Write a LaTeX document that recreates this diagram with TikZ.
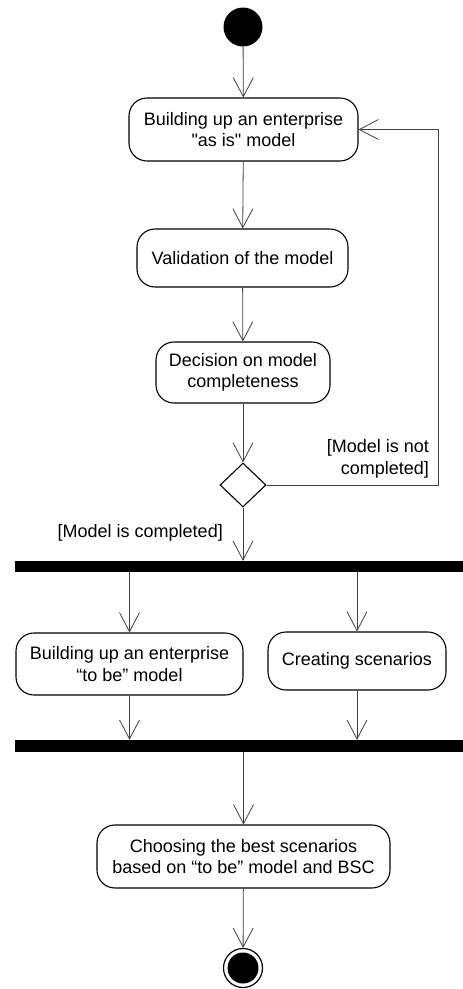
\documentclass[tikz,border=0pt]{standalone}
\usepackage{fontspec}
\newfontfamily\uifont{Liberation Sans}
\usetikzlibrary{shapes.geometric,arrows.meta}
\definecolor{wire}{rgb}{0.25, 0.25, 0.25}

\tikzset{
  activity/.style={draw, rounded corners=18pt, line width=1.1pt, align=center,
    inner sep=0pt, font=\uifont\fontsize{18pt}{21.5pt}\selectfont},
  flow/.style={draw=wire, line width=0.8pt, -{Straight Barb[length=19pt,width=20pt]}},
  bar/.style={fill, inner sep=0pt, minimum width=448pt},
  guard/.style={inner sep=0pt, font=\uifont\fontsize{18pt}{21.5pt}\selectfont}
}

\begin{document}
\begin{tikzpicture}[x=1pt, y=-1pt]
\useasboundingbox (0, 0) rectangle (463, 989);
% start and end
\node [circle, fill, inner sep=0pt, minimum size=39pt] (start) at (243, 27) {};
\node [circle, draw, line width=1.2pt, inner sep=0pt, minimum size=39pt,
  path picture={\fill (path picture bounding box.center) circle (15.5pt);}] (stop) at (243, 968) {};
% activities
\node [activity, minimum width=229pt, minimum height=63pt] (asis) at (243.5, 129.5)
  {Building up an enterprise\\"as is" model};
\node [activity, minimum width=211pt, minimum height=58pt] (valid) at (242.5, 258)
  {Validation of the model};
\node [activity, minimum width=174pt, minimum height=61pt] (decide) at (243, 372.5)
  {Decision on model\\completeness};
\node [diamond, draw, line width=1.1pt, inner sep=0pt, minimum width=46pt,
  minimum height=44pt] (check) at (243, 485) {};
\node [bar, minimum height=11pt] (fork) at (239, 566.5) {};
\node [activity, minimum width=227pt, minimum height=62pt] (tobe) at (129.5, 664)
  {Building up an enterprise\\“to be” model};
\node [activity, minimum width=178pt, minimum height=58pt] (scen) at (357, 661)
  {Creating scenarios};
\node [bar, minimum height=12pt] (join) at (239, 746) {};
\node [activity, minimum width=293pt, minimum height=63pt] (best) at (243.5, 856.5)
  {Choosing the best scenarios\\based on “to be” model and BSC};
% guards
\node [guard, align=right, anchor=east] (notdone) at (429, 459) {[Model is not\\completed]};
\node [guard, anchor=east] (done) at (223, 533) {[Model is completed]};
% flows
\coordinate (back) at (438, 485);
\draw [flow] (start) -- (asis);
\draw [flow] (asis) -- (valid);
\draw [flow] (valid) -- (decide);
\draw [flow] (decide) -- (check);
\draw [flow] (check.east) -- (back) |- (asis.east);
\draw [flow] (check.south) -- (check.south |- fork.north);
\draw [flow] (tobe.north |- fork.south) -- (tobe.north);
\draw [flow] (scen.north |- fork.south) -- (scen.north);
\draw [flow] (tobe.south) -- (tobe.south |- join.north);
\draw [flow] (scen.south) -- (scen.south |- join.north);
\draw [flow] (best.north |- join.south) -- (best.north);
\draw [flow] (best) -- (stop);
\end{tikzpicture}
\end{document}
